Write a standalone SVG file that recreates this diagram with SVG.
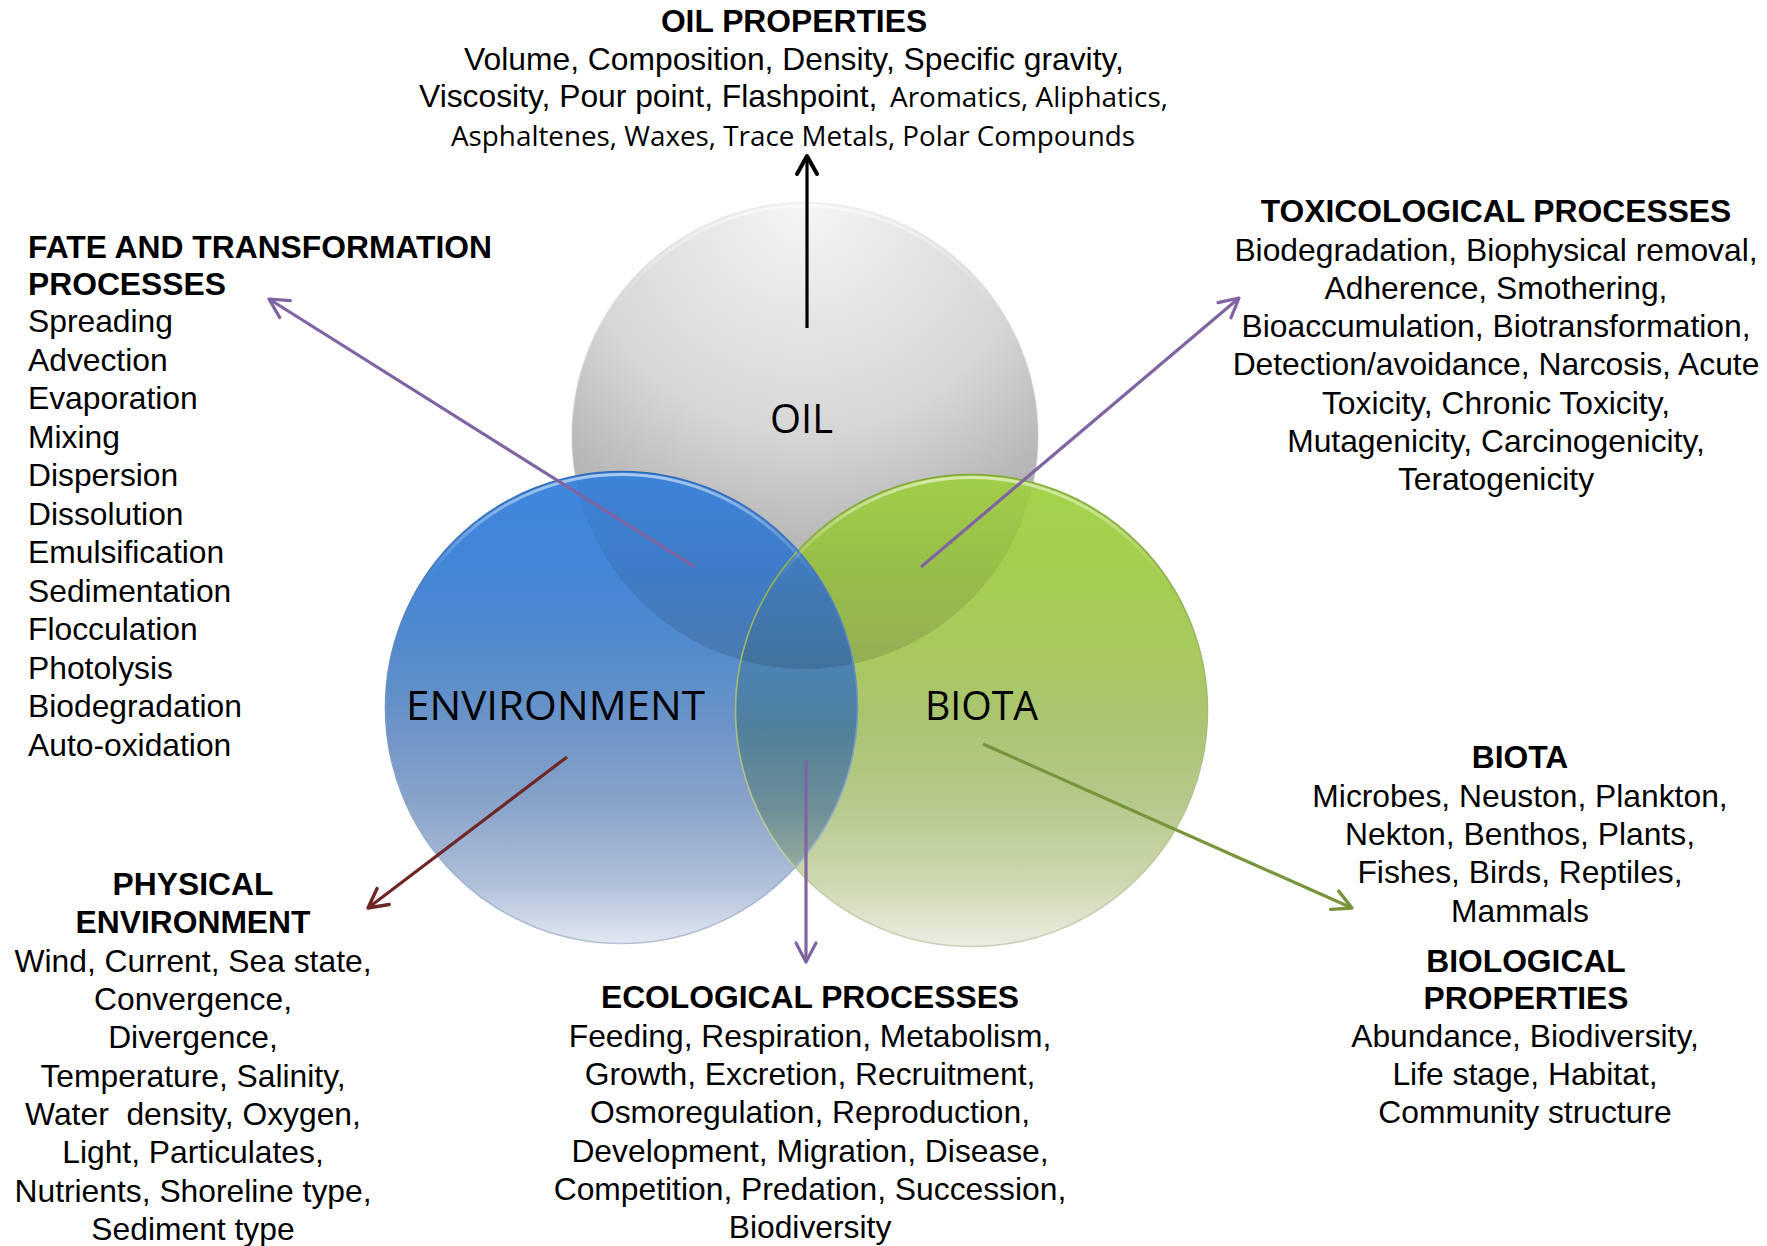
<svg xmlns="http://www.w3.org/2000/svg" width="1767" height="1246" viewBox="0 0 1767 1246">
<defs>
<style>
.t{font-family:"Liberation Sans",Arial,sans-serif;font-size:31.8px;fill:#000}
.b{font-weight:bold}
.c{text-anchor:middle}
.cal{font-family:"Open Sans","Noto Sans",sans-serif;fill:#000}
.ln{fill:none;stroke-width:3.2}
.arr{fill:none;stroke-linecap:round;stroke-linejoin:round}
</style>
<radialGradient id="gOil" cx="0.5" cy="0" r="1.1" fx="0.5" fy="0">
<stop offset="0" stop-color="#f5f5f5"/>
<stop offset="0.45" stop-color="#d6d6d6"/>
<stop offset="0.65" stop-color="#b9b9b9"/>
<stop offset="1" stop-color="#929292"/>
</radialGradient>
<linearGradient id="gBlue" x1="0" y1="0" x2="0" y2="1">
<stop offset="0" stop-color="#3d87de"/>
<stop offset="0.2" stop-color="#4386d8"/>
<stop offset="0.38" stop-color="#538bcc"/>
<stop offset="0.53" stop-color="#6b93c7"/>
<stop offset="0.7" stop-color="#88a3c9"/>
<stop offset="0.87" stop-color="#aebfd9"/>
<stop offset="1" stop-color="#e2e8f2"/>
</linearGradient>
<linearGradient id="gGreen" x1="0" y1="0" x2="0" y2="1">
<stop offset="0" stop-color="#a5d44b"/>
<stop offset="0.18" stop-color="#a4ce4d"/>
<stop offset="0.37" stop-color="#a8ca5e"/>
<stop offset="0.52" stop-color="#aac470"/>
<stop offset="0.69" stop-color="#b5c98b"/>
<stop offset="0.86" stop-color="#ccd7ae"/>
<stop offset="1" stop-color="#ebede3"/>
</linearGradient>
<linearGradient id="gLens" gradientUnits="userSpaceOnUse" x1="0" y1="545" x2="0" y2="875">
<stop offset="0" stop-color="#4386d2"/>
<stop offset="0.3" stop-color="#4a84bb"/>
<stop offset="0.55" stop-color="#4f809d"/>
<stop offset="0.8" stop-color="#6e8f97"/>
<stop offset="1" stop-color="#9aad9f"/>
</linearGradient>
<linearGradient id="gShade" x1="0" y1="0" x2="0" y2="1">
<stop offset="0.5" stop-color="#000000" stop-opacity="0"/>
<stop offset="0.75" stop-color="#000000" stop-opacity="0.07"/>
<stop offset="1" stop-color="#000000" stop-opacity="0.13"/>
</linearGradient>
<linearGradient id="gRim" x1="0" y1="0" x2="0" y2="1">
<stop offset="0" stop-color="#ffffff" stop-opacity="0.55"/>
<stop offset="0.22" stop-color="#ffffff" stop-opacity="0"/>
</linearGradient>
<linearGradient id="gBlueEdge" x1="0" y1="0" x2="0" y2="1">
<stop offset="0" stop-color="#2d69b8"/>
<stop offset="1" stop-color="#b4c0d2"/>
</linearGradient>
<linearGradient id="gGreenEdge" x1="0" y1="0" x2="0" y2="1">
<stop offset="0" stop-color="#82a735"/>
<stop offset="1" stop-color="#ccd2b8"/>
</linearGradient>
<clipPath id="cBlue"><circle cx="621.5" cy="707.5" r="236"/></clipPath>
<clipPath id="cBG"><circle cx="621.5" cy="707.5" r="236"/><circle cx="971.5" cy="710.5" r="236"/></clipPath>
<marker id="mBlack" viewBox="-24 -13 28 26" markerWidth="28" markerHeight="26" refX="0" refY="0" orient="auto" markerUnits="userSpaceOnUse"><path class="arr" d="M-18,-10 L0,0 L-18,10" stroke="#000" stroke-width="4"/></marker>
<marker id="mPurple" viewBox="-24 -13 28 26" markerWidth="28" markerHeight="26" refX="0" refY="0" orient="auto" markerUnits="userSpaceOnUse"><path class="arr" d="M-19,-10 L0,0 L-19,10" stroke="#8064a2" stroke-width="3.2"/></marker>
<marker id="mRed" viewBox="-24 -13 28 26" markerWidth="28" markerHeight="26" refX="0" refY="0" orient="auto" markerUnits="userSpaceOnUse"><path class="arr" d="M-19,-10 L0,0 L-19,10" stroke="#6e2626" stroke-width="3.4"/></marker>
<marker id="mGreen" viewBox="-24 -13 28 26" markerWidth="28" markerHeight="26" refX="0" refY="0" orient="auto" markerUnits="userSpaceOnUse"><path class="arr" d="M-19,-10 L0,0 L-19,10" stroke="#77933c" stroke-width="3.4"/></marker>
</defs>
<rect width="1767" height="1246" fill="#ffffff"/>

<g id="node-oil">
<circle cx="805" cy="436" r="234" fill="#ececec"/>
<circle cx="805" cy="436" r="233" fill="url(#gOil)"/>
<circle cx="805" cy="436" r="230" fill="none" stroke="url(#gRim)" stroke-width="3"/>
<text class="cal" x="801.5" y="433" font-size="41" text-anchor="middle" textLength="63" lengthAdjust="spacingAndGlyphs">OIL</text>
</g>

<g id="node-biota">
<circle cx="971.5" cy="710.5" r="236" fill="url(#gGreen)"/>
</g>
<g id="node-environment">
<circle cx="621.5" cy="707.5" r="236" fill="url(#gBlue)"/>
</g>
<g id="overlap">
<circle cx="971.5" cy="710.5" r="236" fill="url(#gLens)" clip-path="url(#cBlue)"/>
<circle cx="805" cy="436" r="233" fill="url(#gShade)" clip-path="url(#cBG)"/>
<circle cx="971.5" cy="710.5" r="236" fill="none" stroke="url(#gGreenEdge)" stroke-width="1.6"/>
<circle cx="621.5" cy="707.5" r="236" fill="none" stroke="url(#gBlueEdge)" stroke-width="1.6"/>
<circle cx="971.5" cy="710.5" r="233" fill="none" stroke="url(#gRim)" stroke-width="3"/>
<circle cx="621.5" cy="707.5" r="233" fill="none" stroke="url(#gRim)" stroke-width="3"/>
<text class="cal" x="555.5" y="720" font-size="41" text-anchor="middle" textLength="299" lengthAdjust="spacingAndGlyphs">ENVIRONMENT</text>
<text class="cal" x="981.5" y="720" font-size="41" text-anchor="middle" textLength="113" lengthAdjust="spacingAndGlyphs">BIOTA</text>
</g>

<g id="connectors">
<path class="ln" d="M807,328 L807,156" stroke="#000" stroke-width="4" marker-end="url(#mBlack)"/>
<path class="ln" d="M695,567 L269,299" stroke="#8064a2" marker-end="url(#mPurple)"/>
<path class="ln" d="M921,567 L1239,298" stroke="#8064a2" marker-end="url(#mPurple)"/>
<path class="ln" d="M567,757 L368,908" stroke="#6e2626" stroke-width="3.4" marker-end="url(#mRed)"/>
<path class="ln" d="M806,760 L806,962" stroke="#8064a2" marker-end="url(#mPurple)"/>
<path class="ln" d="M983,744 L1352,908" stroke="#77933c" stroke-width="3.4" marker-end="url(#mGreen)"/>
</g>

<g id="label-oil-properties">
<text class="t b c" x="794" y="32">OIL PROPERTIES</text>
<text class="t c" x="794" y="70">Volume, Composition, Density, Specific gravity,</text>
<text class="t" x="419" y="107">Viscosity, Pour point, Flashpoint,</text>
<text class="cal" x="890" y="107" font-size="27" textLength="278" lengthAdjust="spacingAndGlyphs">Aromatics, Aliphatics,</text>
<text class="cal" x="451" y="146" font-size="27" textLength="684" lengthAdjust="spacingAndGlyphs">Asphaltenes, Waxes, Trace Metals, Polar Compounds</text>
</g>

<g id="label-fate">
<text class="t b" x="28" y="258">FATE AND TRANSFORMATION</text>
<text class="t b" x="28" y="295">PROCESSES</text>
<text class="t" x="28" y="332">Spreading</text>
<text class="t" x="28" y="370.5">Advection</text>
<text class="t" x="28" y="409">Evaporation</text>
<text class="t" x="28" y="447.5">Mixing</text>
<text class="t" x="28" y="486">Dispersion</text>
<text class="t" x="28" y="524.5">Dissolution</text>
<text class="t" x="28" y="563">Emulsification</text>
<text class="t" x="28" y="601.5">Sedimentation</text>
<text class="t" x="28" y="640">Flocculation</text>
<text class="t" x="28" y="678.5">Photolysis</text>
<text class="t" x="28" y="717">Biodegradation</text>
<text class="t" x="28" y="755.5">Auto-oxidation</text>
</g>

<g id="label-toxicological">
<text class="t b c" x="1496" y="222">TOXICOLOGICAL PROCESSES</text>
<text class="t c" x="1496" y="260.5">Biodegradation, Biophysical removal,</text>
<text class="t c" x="1496" y="298.5">Adherence, Smothering,</text>
<text class="t c" x="1496" y="337">Bioaccumulation, Biotransformation,</text>
<text class="t c" x="1496" y="375">Detection/avoidance, Narcosis, Acute</text>
<text class="t c" x="1496" y="413.5">Toxicity, Chronic Toxicity,</text>
<text class="t c" x="1496" y="451.5">Mutagenicity, Carcinogenicity,</text>
<text class="t c" x="1496" y="489.5">Teratogenicity</text>
</g>

<g id="label-physical">
<text class="t b c" x="193" y="895">PHYSICAL</text>
<text class="t b c" x="193" y="933">ENVIRONMENT</text>
<text class="t c" x="193" y="971.5">Wind, Current, Sea state,</text>
<text class="t c" x="193" y="1010">Convergence,</text>
<text class="t c" x="193" y="1048">Divergence,</text>
<text class="t c" x="193" y="1086.5">Temperature, Salinity,</text>
<text class="t c" x="193" y="1125" xml:space="preserve">Water  density, Oxygen,</text>
<text class="t c" x="193" y="1163">Light, Particulates,</text>
<text class="t c" x="193" y="1201.5">Nutrients, Shoreline type,</text>
<text class="t c" x="193" y="1239.5">Sediment type</text>
</g>

<g id="label-ecological">
<text class="t b c" x="810" y="1008">ECOLOGICAL PROCESSES</text>
<text class="t c" x="810" y="1046.5">Feeding, Respiration, Metabolism,</text>
<text class="t c" x="810" y="1085">Growth, Excretion, Recruitment,</text>
<text class="t c" x="810" y="1123">Osmoregulation, Reproduction,</text>
<text class="t c" x="810" y="1161.5">Development, Migration, Disease,</text>
<text class="t c" x="810" y="1200">Competition, Predation, Succession,</text>
<text class="t c" x="810" y="1238">Biodiversity</text>
</g>

<g id="label-biota">
<text class="t b c" x="1520" y="768">BIOTA</text>
<text class="t c" x="1520" y="806.5">Microbes, Neuston, Plankton,</text>
<text class="t c" x="1520" y="845">Nekton, Benthos, Plants,</text>
<text class="t c" x="1520" y="883">Fishes, Birds, Reptiles,</text>
<text class="t c" x="1520" y="921.5">Mammals</text>
<text class="t b c" x="1526" y="972">BIOLOGICAL</text>
<text class="t b c" x="1526" y="1009">PROPERTIES</text>
<text class="t c" x="1525" y="1047">Abundance, Biodiversity,</text>
<text class="t c" x="1525" y="1085">Life stage, Habitat,</text>
<text class="t c" x="1525" y="1123">Community structure</text>
</g>
</svg>
